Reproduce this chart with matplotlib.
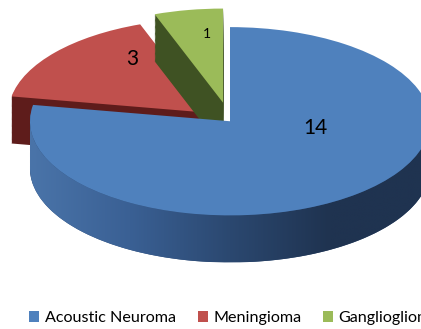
import numpy as np
import matplotlib.pyplot as plt
from matplotlib.patches import Polygon
from matplotlib.colors import LinearSegmentedColormap

labels = ["Acoustic Neuroma", "Meningioma", "Ganglioglioma"]
values = [14, 3, 1]
top_colors = ["#4F81BD", "#C0504D", "#9BBB59"]
side_colors = ["#2F4C75", "#5E1C1B", "#3F5223"]
explode = [0.0, 0.14, 0.2]

plt.rcParams["font.family"] = ["Lato", "DejaVu Sans"]

fig = plt.figure(figsize=(4.21, 3.29), dpi=100)
ax = fig.add_axes([0, 0, 1, 1])

depth = 0.5
n_layers = 40
rank = {1: 0, 2: 1, 0: 2}  # back slices drawn first, blue in front

# extruded sides: stacked copies of the pie shifted downward
for k in range(n_layers):
    dy = -depth * (1 - k / n_layers)
    wedges, _ = ax.pie(values, startangle=90, counterclock=False,
                       explode=explode, colors=side_colors,
                       center=(0, dy), wedgeprops=dict(linewidth=0))
    for j, w in enumerate(wedges):
        w.set_zorder(1 + rank[j] * 100 + k * 0.5)

# top faces
top, _ = ax.pie(values, startangle=90, counterclock=False,
                explode=explode, colors=top_colors,
                wedgeprops=dict(linewidth=0))
for j, w in enumerate(top):
    w.set_zorder(1 + rank[j] * 100 + 60)

# horizontal shading on the front wall of the big slice
t = np.linspace(np.pi, 2 * np.pi, 200)
wall = np.vstack([np.c_[np.cos(t), np.sin(t)],
                  np.c_[np.cos(t[::-1]), np.sin(t[::-1]) - depth]])
clip = Polygon(wall, closed=True, transform=ax.transData)
cmap = LinearSegmentedColormap.from_list(
    "side", ["#4A74A9", "#3A6094", "#2B4870", "#1F3350", "#1F3350"])
grad = np.linspace(0, 1, 256)[None, :]
im = ax.imshow(grad, cmap=cmap, extent=[-1, 1, -1 - depth, 0.05],
               aspect="auto", zorder=1 + 2 * 100 + 30, interpolation="bilinear")
im.set_clip_path(clip)

ax.set_aspect("auto")
ax.set_xlim(-1.15, 0.955)
ax.set_ylim(-2.207, 1.288)
ax.axis("off")

ax.text(0.748, 0.612, str(values[0]), transform=ax.transAxes, fontsize=15,
        ha="center", va="center", zorder=500)
ax.text(0.314, 0.822, str(values[1]), transform=ax.transAxes, fontsize=15,
        ha="center", va="center", zorder=500)
ax.text(0.492, 0.898, str(values[2]), transform=ax.transAxes, fontsize=10,
        ha="center", va="center", zorder=500)

ax.legend(top, labels, loc="center left", bbox_to_anchor=(0.054, 0.033),
          bbox_transform=fig.transFigure, ncol=3, frameon=False,
          fontsize=11.6, handlelength=0.62, handleheight=0.62,
          handletextpad=0.35, columnspacing=1.35, borderaxespad=0)

fig.savefig("out.png", dpi=100)
